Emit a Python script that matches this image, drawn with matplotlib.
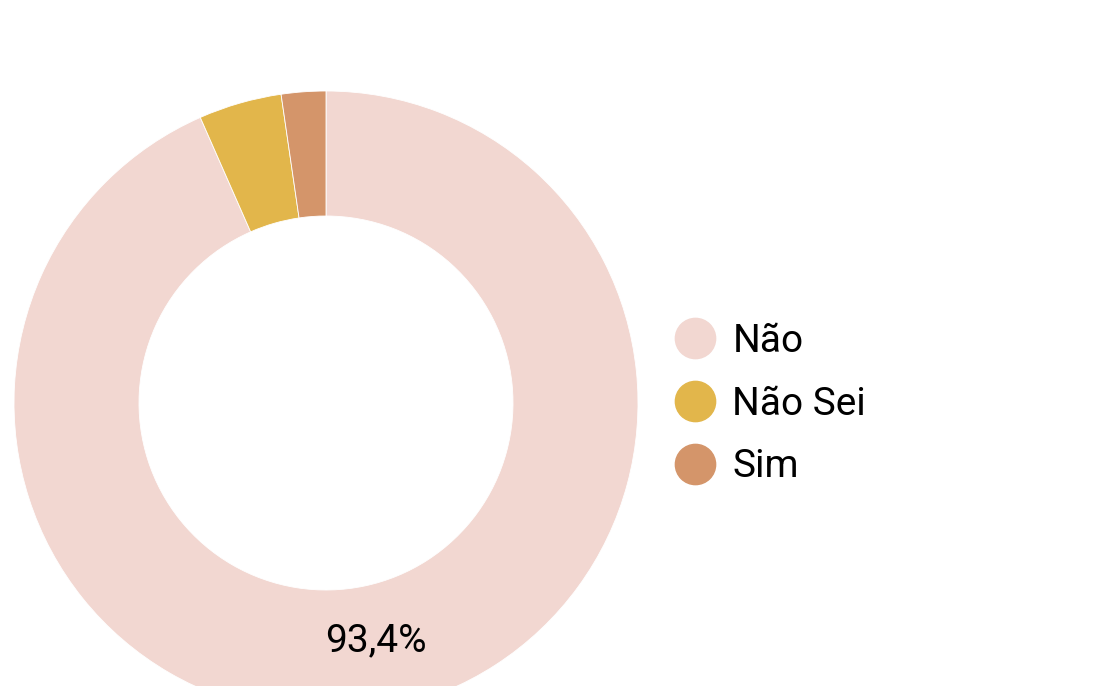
import matplotlib.pyplot as plt
from matplotlib.lines import Line2D

categories = ['Não', 'Não Sei', 'Sim']
shares = [93.4, 4.3, 2.3]
colors = ['#F2D7D1', '#E2B64B', '#D4956A']

plt.rcParams['font.family'] = ['Roboto', 'DejaVu Sans']

fig = plt.figure(figsize=(10.93, 6.86), dpi=100)
ax = fig.add_axes([0, 0, 1, 1])


def pct_label(p):
    if p < 50:
        return ''
    return f'{p:.1f}'.replace('.', ',') + '%'


wedges, texts, autotexts = ax.pie(
    shares, colors=colors, center=(326, 283), radius=312,
    startangle=90, counterclock=False, autopct=pct_label,
    pctdistance=0.78, frame=True,
    wedgeprops=dict(width=125, edgecolor='white', linewidth=0.6),
    textprops=dict(fontsize=28, color='black'))
ax.set_xlim(0, 1093)
ax.set_ylim(0, 686)
ax.set_aspect('equal')
ax.axis('off')

handles = [Line2D([], [], marker='o', linestyle='none', markersize=29,
                  markerfacecolor=c, markeredgecolor=c) for c in colors]
ax.legend(handles, categories, loc='center left',
          bbox_to_anchor=(676 / 1093, 1 - 404 / 686), frameon=False,
          fontsize=28, handlelength=1.0, handletextpad=0.45,
          labelspacing=0.66, borderpad=0, borderaxespad=0)

fig.savefig('out.png', dpi=100)
